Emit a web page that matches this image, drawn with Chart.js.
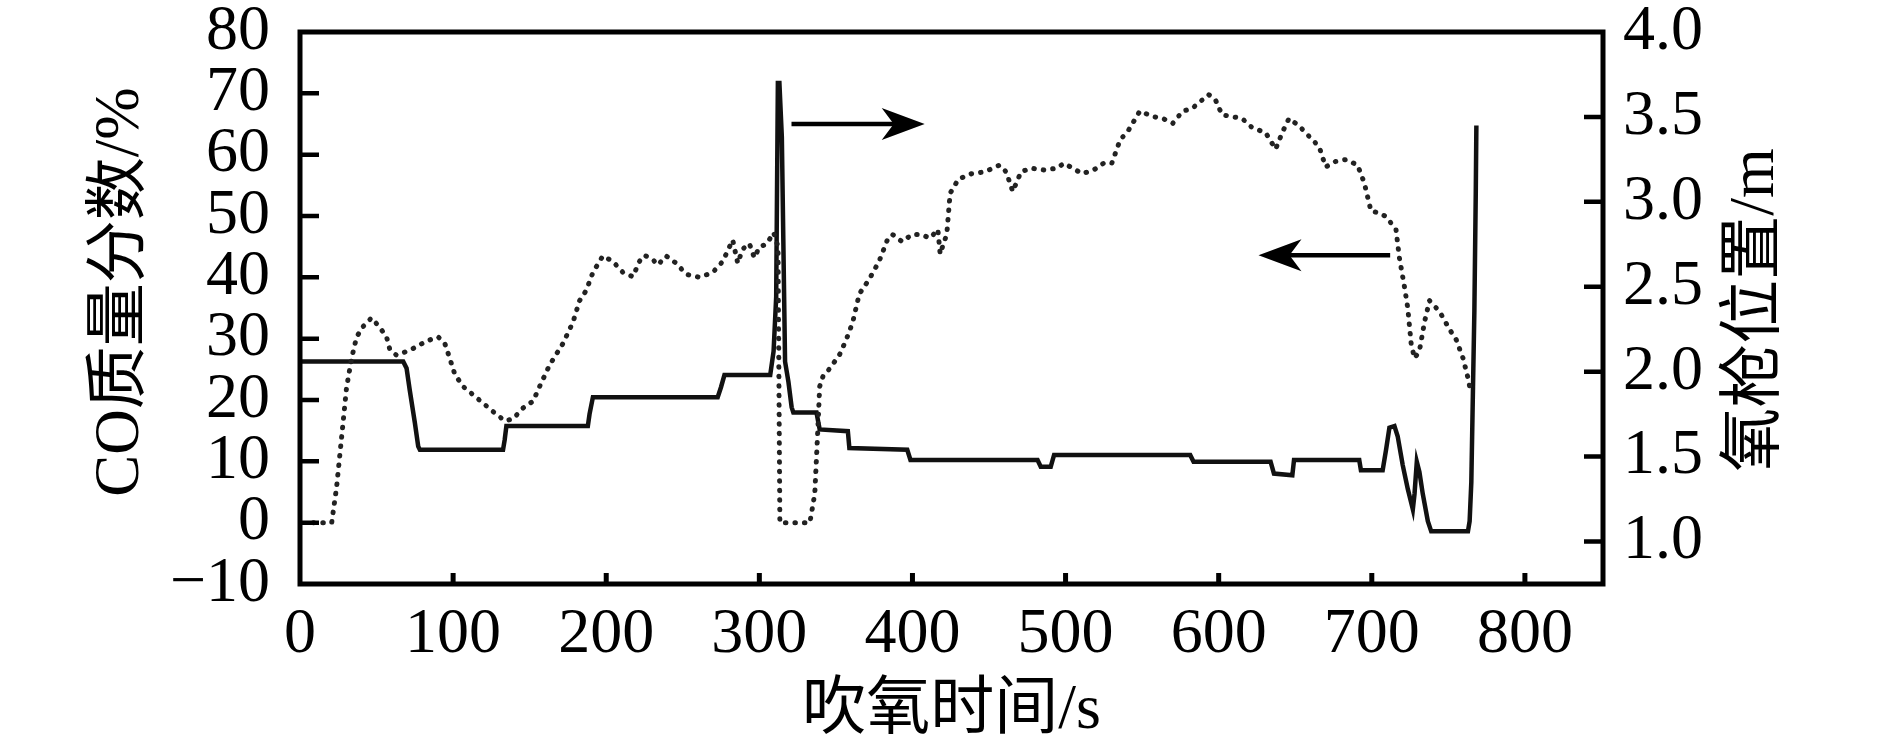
<!DOCTYPE html>
<html>
<head>
<meta charset="utf-8">
<title>CO质量分数与氧枪位置</title>
<script src="https://cdn.jsdelivr.net/npm/chart.js@4.4.1/dist/chart.umd.min.js"></script>
<style>
  html, body { margin: 0; padding: 0; background: #fff; }
  #wrap { width: 1890px; height: 755px; }
</style>
</head>
<body>
<div id="wrap"><canvas id="myChart" width="1890" height="755"></canvas></div>
<script>
/*--------------- data ---------------*/
// CO mass fraction, % (dotted line, left axis)
var coTime = [8.7, 20.7, 23.9, 27.2, 30.4, 33.7, 37, 41.3, 46.7, 52.2, 56.5, 58.7, 63, 67.4, 73.9, 82.6, 90.2, 94.6, 97.8,
    101.1, 106.5, 115.2, 126.1, 133.7, 139.1, 145.7, 152.2, 156.5, 163, 171.7, 178.3, 182.6, 187, 191.3, 197.8,
    204.3, 210.9, 217.4, 221.7, 225, 230.4, 233.7, 239.1, 245.7, 252.2, 260.9, 269.6, 276.1, 282.6, 285.9, 289.1,
    293.5, 296.7, 300, 305, 309.3, 312.2, 313.4, 320, 333, 336.2, 338.4, 339.4, 341.6, 345.9, 352.4, 356.7, 361,
    365.3, 371.8, 378.2, 383.6, 386.9, 393.3, 399.8, 405.2, 411.6, 416.6, 418.1, 420.3, 422.4, 424.6, 430, 438.6,
    447.2, 456.9, 461.2, 465.5, 470.9, 477.4, 486, 494.6, 498.9, 503.2, 510.8, 518.3, 524.8, 530.2, 535.6, 540.9,
    548.5, 557.1, 563.6, 570, 576.5, 582.5, 593.4, 597.8, 602.2, 608.7, 615.3, 621.9, 630.6, 637.2, 641.5, 645.9,
    652.5, 659, 665.6, 669.9, 676.5, 683.1, 690.7, 695.1, 699.5, 704.9, 709.3, 715.8, 718, 721.3, 723.5, 725.7,
    727.9, 731.1, 734.4, 737.7, 744.3, 750.8, 755.2, 759.6, 762.8, 764.4];
var coValue = [0, 0, 5.8, 14, 22, 26.8, 30.3, 32, 33.4, 31.8, 30.3, 28.2, 27.3, 27.7, 28.4, 29.6, 30.3, 29.2, 26.8,
    24.2, 22.2, 20.4, 18.1, 16.6, 16.9, 18.7, 19.8, 22.2, 25.7, 29.2, 32.7, 36.2, 37.9, 40.8, 43.5,
    42.6, 40.8, 40.1, 42.6, 43.6, 42.9, 42, 43.5, 42.3, 40.5, 40, 40.8, 42.6, 46.1, 42.3, 44.6,
    45.5, 43.2, 44.9, 45.5, 47.3, 45, 0, 0, 0, 4.7, 16.3, 22.2, 23.9, 25.1, 27.4, 29.8, 32.7,
    37.3, 39.7, 42.6, 46.1, 47, 45.8, 47, 47, 46.4, 47.8, 43.8, 45.5, 47, 53.7, 56, 56.9,
    57.2, 58.3, 57.2, 54, 57.2, 57.8, 57.5, 57.8, 58.6, 58, 56.9, 57.5, 58.6, 58.6, 62.4, 63.9,
    67.1, 66.2, 65.9, 65.1, 67.1, 67.5, 69.8, 69, 66.5, 66.2, 65.9, 64.4, 63.6, 60.9, 63.6, 65.9,
    64.7, 63, 61.3, 58, 58.9, 59.2, 58.3, 55.4, 50.8, 50.5, 49.9, 47.8, 43.2, 38.5, 35, 29.2,
    26.8, 28, 32.7, 36.2, 34.4, 31.5, 29.8, 26.8, 23.6, 21.6];

// lance position, m (solid line, right axis)
var lanceTime = [0, 67.4, 69.6, 71.7, 75, 77.2, 78.3, 132.6, 133.7, 134.8, 188, 189.1, 191.3, 272.8, 275, 277.2,
    307.1, 309.3, 311, 312.1, 313.1, 314.7, 315.7, 316.8, 319, 321.1, 322.2, 337.3, 339.4, 357.8, 358.8,
    396.6, 398.7, 481.7, 483.8, 490.3, 492.5, 578.7, 581.4, 583.6, 633.9, 636.1, 648.1, 649.2, 691.8, 692.9,
    707.1, 709.3, 711.5, 714.8, 716.9, 720.2, 723.5, 726.8, 727.9, 729.4, 731.1, 733.3, 736.6, 738.8,
    762.8, 763.9, 765, 766.1, 767, 767.9, 768.3];
var lanceValue = [2.06, 2.06, 2.02, 1.89, 1.70, 1.56, 1.54, 1.54, 1.60, 1.68, 1.68, 1.75, 1.85, 1.85, 1.91, 1.98,
    1.98, 2.12, 2.44, 3.70, 3.70, 3.38, 2.75, 2.06, 1.94, 1.79, 1.76, 1.76, 1.66, 1.65, 1.55,
    1.54, 1.48, 1.48, 1.44, 1.44, 1.51, 1.51, 1.51, 1.47, 1.47, 1.40, 1.39, 1.48, 1.48, 1.42,
    1.42, 1.54, 1.67, 1.68, 1.62, 1.45, 1.31, 1.19, 1.28, 1.47, 1.41, 1.28, 1.12, 1.06,
    1.06, 1.12, 1.35, 1.91, 2.36, 3.05, 3.45];

// axis ranges and tick values
var xTicks = [0, 100, 200, 300, 400, 500, 600, 700, 800];
var coTicks = [-10, 0, 10, 20, 30, 40, 50, 60, 70, 80];
var lanceTicks = [1.0, 1.5, 2.0, 2.5, 3.0, 3.5, 4.0];

// arrows: [fromTime, toTime, coLevel]
var arrowToLance = [321, 408, 65];
var arrowToCO = [712, 626, 43.6];

var titleX = '吹氧时间/s';
var titleCO = 'CO质量分数/%';
var titleLance = '氧枪位置/m';

/*--------------- helpers ---------------*/
var FONT = '"Liberation Serif", "Times New Roman", "Noto Sans CJK SC", serif';

function toPoints(xs, ys) {
    return xs.map(function(x, i) { return { x: x, y: ys[i] }; });
}

function keepTicks(list) {
    return function(scale) {
        scale.ticks = list.map(function(v) { return { value: v }; });
    };
}

// fixed box sizes, no extra label padding around the plot
function fixWidth(w) {
    return function(scale) {
        scale.width = w;
        scale.paddingTop = 0;
        scale.paddingBottom = 0;
    };
}

/*--------------- frame, inner ticks, titles, arrows ---------------*/
var decorPlugin = {
    id: 'decor',
    afterDraw: function(chart) {
        var ctx = chart.ctx;
        var a = chart.chartArea;
        var sx = chart.scales.x, sy = chart.scales.y, sy2 = chart.scales.y2;

        ctx.save();
        ctx.strokeStyle = '#000';
        ctx.lineCap = 'butt';

        // inward tick marks
        ctx.lineWidth = 4.5;
        ctx.beginPath();
        coTicks.forEach(function(v) {
            if (v <= -10 || v >= 80) return;
            var y = sy.getPixelForValue(v);
            ctx.moveTo(a.left, y); ctx.lineTo(a.left + 19, y);
        });
        lanceTicks.forEach(function(v) {
            if (v >= 4.0) return;
            var y = sy2.getPixelForValue(v);
            ctx.moveTo(a.right, y); ctx.lineTo(a.right - 19, y);
        });
        ctx.stroke();
        ctx.lineWidth = 5;
        ctx.beginPath();
        xTicks.forEach(function(v) {
            if (v === 0) return;
            var x = sx.getPixelForValue(v);
            ctx.moveTo(x, a.bottom); ctx.lineTo(x, a.bottom - 11);
        });
        ctx.stroke();

        // frame
        ctx.lineWidth = 5;
        ctx.strokeRect(a.left, a.top, a.right - a.left, a.bottom - a.top);

        // arrows
        function arrow(spec) {
            var x1 = sx.getPixelForValue(spec[0]);
            var x2 = sx.getPixelForValue(spec[1]);
            var y = sy.getPixelForValue(spec[2]);
            var dir = x2 > x1 ? 1 : -1;
            ctx.lineWidth = 4.5;
            ctx.beginPath();
            ctx.moveTo(x1, y); ctx.lineTo(x2 - dir * 20, y);
            ctx.stroke();
            ctx.fillStyle = '#000';
            ctx.beginPath();
            ctx.moveTo(x2, y);
            ctx.lineTo(x2 - dir * 43, y - 16);
            ctx.lineTo(x2 - dir * 31, y);
            ctx.lineTo(x2 - dir * 43, y + 16);
            ctx.closePath();
            ctx.fill();
        }
        arrow(arrowToLance);
        arrow(arrowToCO);

        // axis titles
        ctx.fillStyle = '#000';
        ctx.textAlign = 'center';
        ctx.textBaseline = 'middle';
        ctx.font = '64px ' + FONT;
        ctx.fillText(titleX, (a.left + a.right) / 2, 711);

        ctx.font = '63px ' + FONT;
        ctx.save();
        ctx.translate(121, 292);
        ctx.rotate(-Math.PI / 2);
        ctx.fillText(titleCO, 0, 0);
        ctx.restore();

        ctx.font = '64px ' + FONT;
        ctx.save();
        ctx.translate(1756, 310);
        ctx.rotate(-Math.PI / 2);
        ctx.fillText(titleLance, 0, 0);
        ctx.restore();

        ctx.restore();
    }
};

/*--------------- Chart js ---------------*/
var ctx = document.getElementById('myChart').getContext('2d');
var myChart = new Chart(ctx, {
    type: 'line',
    data: {
        datasets: [{
            label: 'CO',
            data: toPoints(coTime, coValue),
            yAxisID: 'y',
            borderColor: '#222',
            borderWidth: 5,
            borderDash: [0.5, 9],
            borderCapStyle: 'round',
            pointRadius: 0,
            tension: 0,
            fill: false
        }, {
            label: 'lance',
            data: toPoints(lanceTime, lanceValue),
            yAxisID: 'y2',
            borderColor: '#111',
            borderWidth: 4.5,
            pointRadius: 0,
            tension: 0,
            fill: false
        }]
    },
    options: {
        responsive: false,
        devicePixelRatio: 1,
        animation: false,
        layout: { padding: { top: 32, left: 0, right: 0, bottom: 0 } },
        plugins: {
            legend: { display: false },
            tooltip: { enabled: false },
            title: { display: false }
        },
        scales: {
            x: {
                type: 'linear',
                min: 0,
                max: 851,
                grid: { display: false, drawTicks: false },
                border: { display: false },
                afterBuildTicks: keepTicks(xTicks),
                afterFit: function(scale) {
                    scale.height = 171;
                    scale.paddingLeft = 0;
                    scale.paddingRight = 0;
                },
                ticks: {
                    autoSkip: false,
                    maxRotation: 0,
                    padding: 13,
                    color: '#000',
                    font: { family: FONT, size: 64 }
                }
            },
            y: {
                position: 'left',
                min: -10,
                max: 80,
                grid: { display: false, drawTicks: false },
                border: { display: false },
                afterBuildTicks: keepTicks(coTicks),
                afterFit: fixWidth(300),
                ticks: {
                    autoSkip: false,
                    padding: 30,
                    color: '#000',
                    font: { family: FONT, size: 64 },
                    callback: function(v) { return v < 0 ? '\u2212' + Math.abs(v) : String(v); }
                }
            },
            y2: {
                position: 'right',
                min: 0.75,
                max: 4.0,
                grid: { display: false, drawTicks: false },
                border: { display: false },
                afterBuildTicks: keepTicks(lanceTicks),
                afterFit: fixWidth(287),
                ticks: {
                    autoSkip: false,
                    padding: 20,
                    color: '#000',
                    font: { family: FONT, size: 64 },
                    callback: function(v) { return Number(v).toFixed(1); }
                }
            }
        }
    },
    plugins: [decorPlugin]
});
</script>
</body>
</html>
